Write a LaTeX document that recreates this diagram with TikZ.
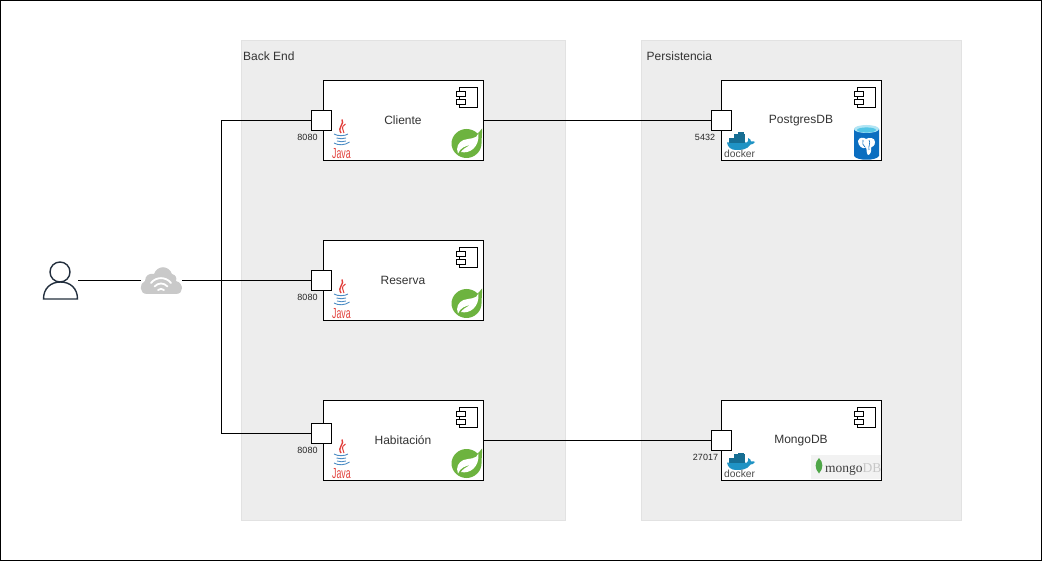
\documentclass[tikz,border=0pt]{standalone}
\usepackage{fontspec}
\setmainfont{Liberation Sans}
\newfontfamily\logoserif{Liberation Serif}
\usetikzlibrary{positioning}
\definecolor{panelgray}{HTML}{EDEDED}
\definecolor{paneledge}{HTML}{E2E2E2}
\definecolor{usernavy}{HTML}{232F3E}
\definecolor{cloudgray}{HTML}{C9C9C9}
\definecolor{springgreen}{HTML}{6DB33F}
\definecolor{javared}{HTML}{E2403C}
\definecolor{javablue}{HTML}{4C8CC4}
\definecolor{dockerblue}{HTML}{1F93C4}
\definecolor{pgblue}{HTML}{0B6EC0}
\definecolor{pgcyan}{HTML}{55C6E6}
\definecolor{mongogreen}{HTML}{4FA648}
\tikzset{
  panel/.style={draw=paneledge,fill=panelgray,anchor=north west,inner sep=0pt},
  paneltitle/.style={anchor=north west,inner sep=0pt,text=black!80,font=\fontsize{12}{14}\selectfont},
  compbox/.style={draw=black,line width=1pt,fill=white,minimum width=160pt,minimum height=80pt,
    inner sep=0pt,anchor=north west},
  comptext/.style={text=black!80,font=\fontsize{12}{14}\selectfont},
  portbox/.style={draw=black,line width=1pt,fill=white,minimum size=20pt,inner sep=0pt},
  portlabel/.style={inner sep=0pt,font=\fontsize{9}{11}\selectfont,text=black!85},
  wire/.style={draw=black,line width=1pt},
  iconline/.style={draw=black,line width=1pt,fill=white},
  hotspot/.style={minimum width=#1,minimum height=20pt,inner sep=0pt},
  umlicon/.pic={
    \draw[iconline] (3,0) rectangle (21,20);
    \draw[iconline] (0,4) rectangle (9,9);
    \draw[iconline] (0,12) rectangle (9,17);
  },
  springlogo/.pic={
    \fill[springgreen] (30.5,0) .. controls (29,2.5) and (27.5,3.5) .. (26,5)
      .. controls (23,2) and (19,0.5) .. (15,0.5)
      .. controls (7,0.5) and (0,7) .. (0,15)
      .. controls (0,23) and (7,29.5) .. (15,29.5)
      .. controls (23,29.5) and (30,23) .. (30,15)
      .. controls (30,10) and (30.8,5) .. cycle;
    \fill[white] (27,5) .. controls (25,11) and (18,9.5) .. (12,11.5)
      .. controls (7,13.5) and (4,19) .. (6.5,25)
      .. controls (9,19) and (14,17.5) .. (19,16.5)
      .. controls (14,19) and (11,21) .. (9.5,23.5)
      .. controls (18,25.5) and (28,19) .. cycle;
  },
  javalogo/.pic={
    \draw[javared,line width=1.4pt] (10,-0.5) .. controls (13,4) and (5,7) .. (9,13);
    \draw[javared,line width=1pt] (13.5,4) .. controls (8.5,7) and (11,9) .. (12,13);
    \draw[javablue,line width=0.9pt] (2,14) .. controls (6,16.5) and (13,16) .. (16,14);
    \draw[javablue,line width=0.9pt] (4.5,18) .. controls (8,19) and (11,19) .. (14,18);
    \draw[javablue,line width=0.9pt] (5,21) .. controls (8,22) and (11,22) .. (14,21);
    \draw[javablue,line width=0.9pt] (2,23) .. controls (6,25.5) and (13,25.5) .. (17.5,22);
    \node[anchor=base west,inner sep=0pt,text=javared,
      font=\fontsize{14.6}{15}\selectfont] (javatext) at (0,38.5) {\scalebox{0.6}[1]{Java}};
  },
  dockerlogo/.pic={
    \fill[dockerblue] (3,8.5) -- (23,8.5) .. controls (24.5,7.5) and (24.5,5.5) .. (24,4)
      .. controls (26,4.5) and (27,6) .. (27,7.5) .. controls (28.5,7) and (30,7.2) .. (31,8)
      .. controls (29.5,10) and (28,10.5) .. (26.5,10.5)
      .. controls (23,16) and (17,16) .. (12,16)
      .. controls (7,16) and (3.5,13) .. cycle;
    \fill[dockerblue!75!black] (5,4) rectangle (21,8.8);
    \fill[dockerblue!75!black] (10,0) rectangle (21,4.2);
    \fill[dockerblue!75!black] (13.5,-1.5) rectangle (19.5,0.2);
    \node[anchor=base west,inner sep=0pt,text=black!70,font=\fontsize{10.3}{11}\selectfont] (dockertext) at (0,23.5) {docker};
  },
  pgicon/.pic={
    \fill[pgblue] (0,4) -- (0,31) .. controls (3,36) and (22,36) .. (25,31) -- (25,4) -- cycle;
    \fill[pgcyan!45!white] (12.5,4) ellipse (12.5 and 4);
    \fill[pgcyan] (12.5,5) ellipse (9.5 and 2.6);
    \fill[white] (4,16) .. controls (5,12) and (10,12) .. (12,14) .. controls (15,12) and (21,12.5) .. (21,17)
      .. controls (21,21) and (18,22) .. (17,22.5) .. controls (18,26) and (16,30) .. (14,30)
      .. controls (12,28) and (13,24) .. (12,22.5) .. controls (9,25) and (4,21) .. cycle;
    \draw[pgblue,line width=0.6pt] (9,15) .. controls (8,18) and (9,21) .. (11,22);
    \draw[pgblue,line width=0.6pt] (15,15) .. controls (17,18) and (14,21) .. (15,25);
  },
  mongologo/.pic={
    \fill[black!5] (0,0) rectangle (70,24);
    \fill[mongogreen] (8,3.5) .. controls (3.5,8) and (3.5,14) .. (8,19)
      .. controls (12.5,14) and (12.5,8) .. cycle;
    \node[anchor=base west,inner sep=0pt,font=\fontsize{13.5}{14}\logoserif\selectfont] (mongotext) at (14,17.5)
      {\textcolor{black!75}{mongo}\textcolor{black!22}{DB}};
  }
}
\begin{document}
\begin{tikzpicture}[x=1pt,y=-1pt]
\useasboundingbox (0,0) rectangle (1042,561);
\draw[black,line width=1pt] (0.5,0.5) rectangle (1041.5,560.5);

% panels
\node[panel,minimum width=324pt,minimum height=480pt] (backend) at (241,40) {};
\node[panel,minimum width=320pt,minimum height=480pt] (persistencia) at (641,40) {};
\node[paneltitle] (backendtitle) at (243,52) {Back End};
\node[paneltitle] (persistenciatitle) at (646.5,52) {Persistencia};

% components
\node[compbox] (cliente) at (323,80) {};
\node[compbox] (reserva) at (323,240) {};
\node[compbox] (habitacion) at (323,400) {};
\node[compbox] (postgres) at (721,80) {};
\node[compbox] (mongo) at (721,400) {};
\node[comptext] (clientetext) at (403,120.5) {Cliente};
\node[comptext] (reservatext) at (403,280.5) {Reserva};
\node[comptext] (habitaciontext) at (403,440.5) {Habitación};
\node[comptext] (postgrestext) at (801,120.5) {PostgresDB};
\node[comptext] (mongotitle) at (801,440.5) {MongoDB};

\foreach \ox/\oy in {456/87,456/247,456/407,854/87,854/407}
  \pic at (\ox.5,\oy.5) {umlicon};
\foreach \oy in {120,280,440}
  \pic at (332,\oy) {javalogo};
\foreach \oy in {128.5,288.5,448.5}
  \pic at (451.5,\oy) {springlogo};
\foreach \oy in {134,454}
  \pic at (724,\oy) {dockerlogo};
\pic at (854,125) {pgicon};
\pic at (811,454.5) {mongologo};

% ports
\node[portbox] (portcliente) at (321.5,120.5) {};
\node[portbox] (portreserva) at (321.5,280.5) {};
\node[portbox] (porthabitacion) at (321.5,433.5) {};
\node[portbox] (portpostgres) at (721.5,120.5) {};
\node[portbox] (portmongo) at (721.5,440.5) {};
\node[portlabel,below=3pt of portcliente.south west,xshift=-3.5pt] (labelcliente) {8080};
\node[portlabel,below=3pt of portreserva.south west,xshift=-3.5pt] (labelreserva) {8080};
\node[portlabel,below=3pt of porthabitacion.south west,xshift=-3.5pt] (labelhabitacion) {8080};
\node[portlabel,below=3pt of portpostgres.south west,xshift=-6pt] (labelpostgres) {5432};
\node[portlabel,below=3pt of portmongo.south west,xshift=-5.5pt] (labelmongo) {27017};

% user and cloud
\node[hotspot=35pt] (user) at (60.5,280.5) {};
\draw[usernavy,line width=1.4pt,fill=white] (60,272) circle (10);
\draw[usernavy,line width=1.4pt] (43.5,299) .. controls (43.5,288) and (51,282) .. (60.5,282)
  .. controls (70,282) and (77.5,288) .. (77.5,299) -- cycle;
\node[hotspot=41pt] (cloud) at (161.5,280.5) {};
\fill[cloudgray] (147,294) .. controls (139,294) and (139,283) .. (145,281)
  .. controls (145,275) and (150,273) .. (154,274) .. controls (157,265) and (169,265) .. (172,274)
  .. controls (176,275) and (177,278) .. (176,281) .. controls (184,283) and (184,294) .. (176,294) -- cycle;
\draw[white,line width=1.8pt,line cap=round] (151,283) .. controls (156,276.5) and (166,276.5) .. (171,283);
\draw[white,line width=1.8pt,line cap=round] (154.5,286.5) .. controls (158,282.5) and (164,282.5) .. (167.5,286.5);
\draw[white,line width=1.8pt,line cap=round] (158,290) .. controls (160,288.5) and (162,288.5) .. (164,290);

% connectors
\coordinate (junction) at (221.5,280.5);
\draw[wire] (user.east) -- (cloud.west);
\draw[wire] (cloud.east) -- (portreserva.west);
\draw[wire] (portcliente.west) -| (junction) |- (porthabitacion.west);
\draw[wire] (cliente.east) -- (portpostgres.west);
\draw[wire] (habitacion.east) -- (portmongo.west);
\end{tikzpicture}
\end{document}
